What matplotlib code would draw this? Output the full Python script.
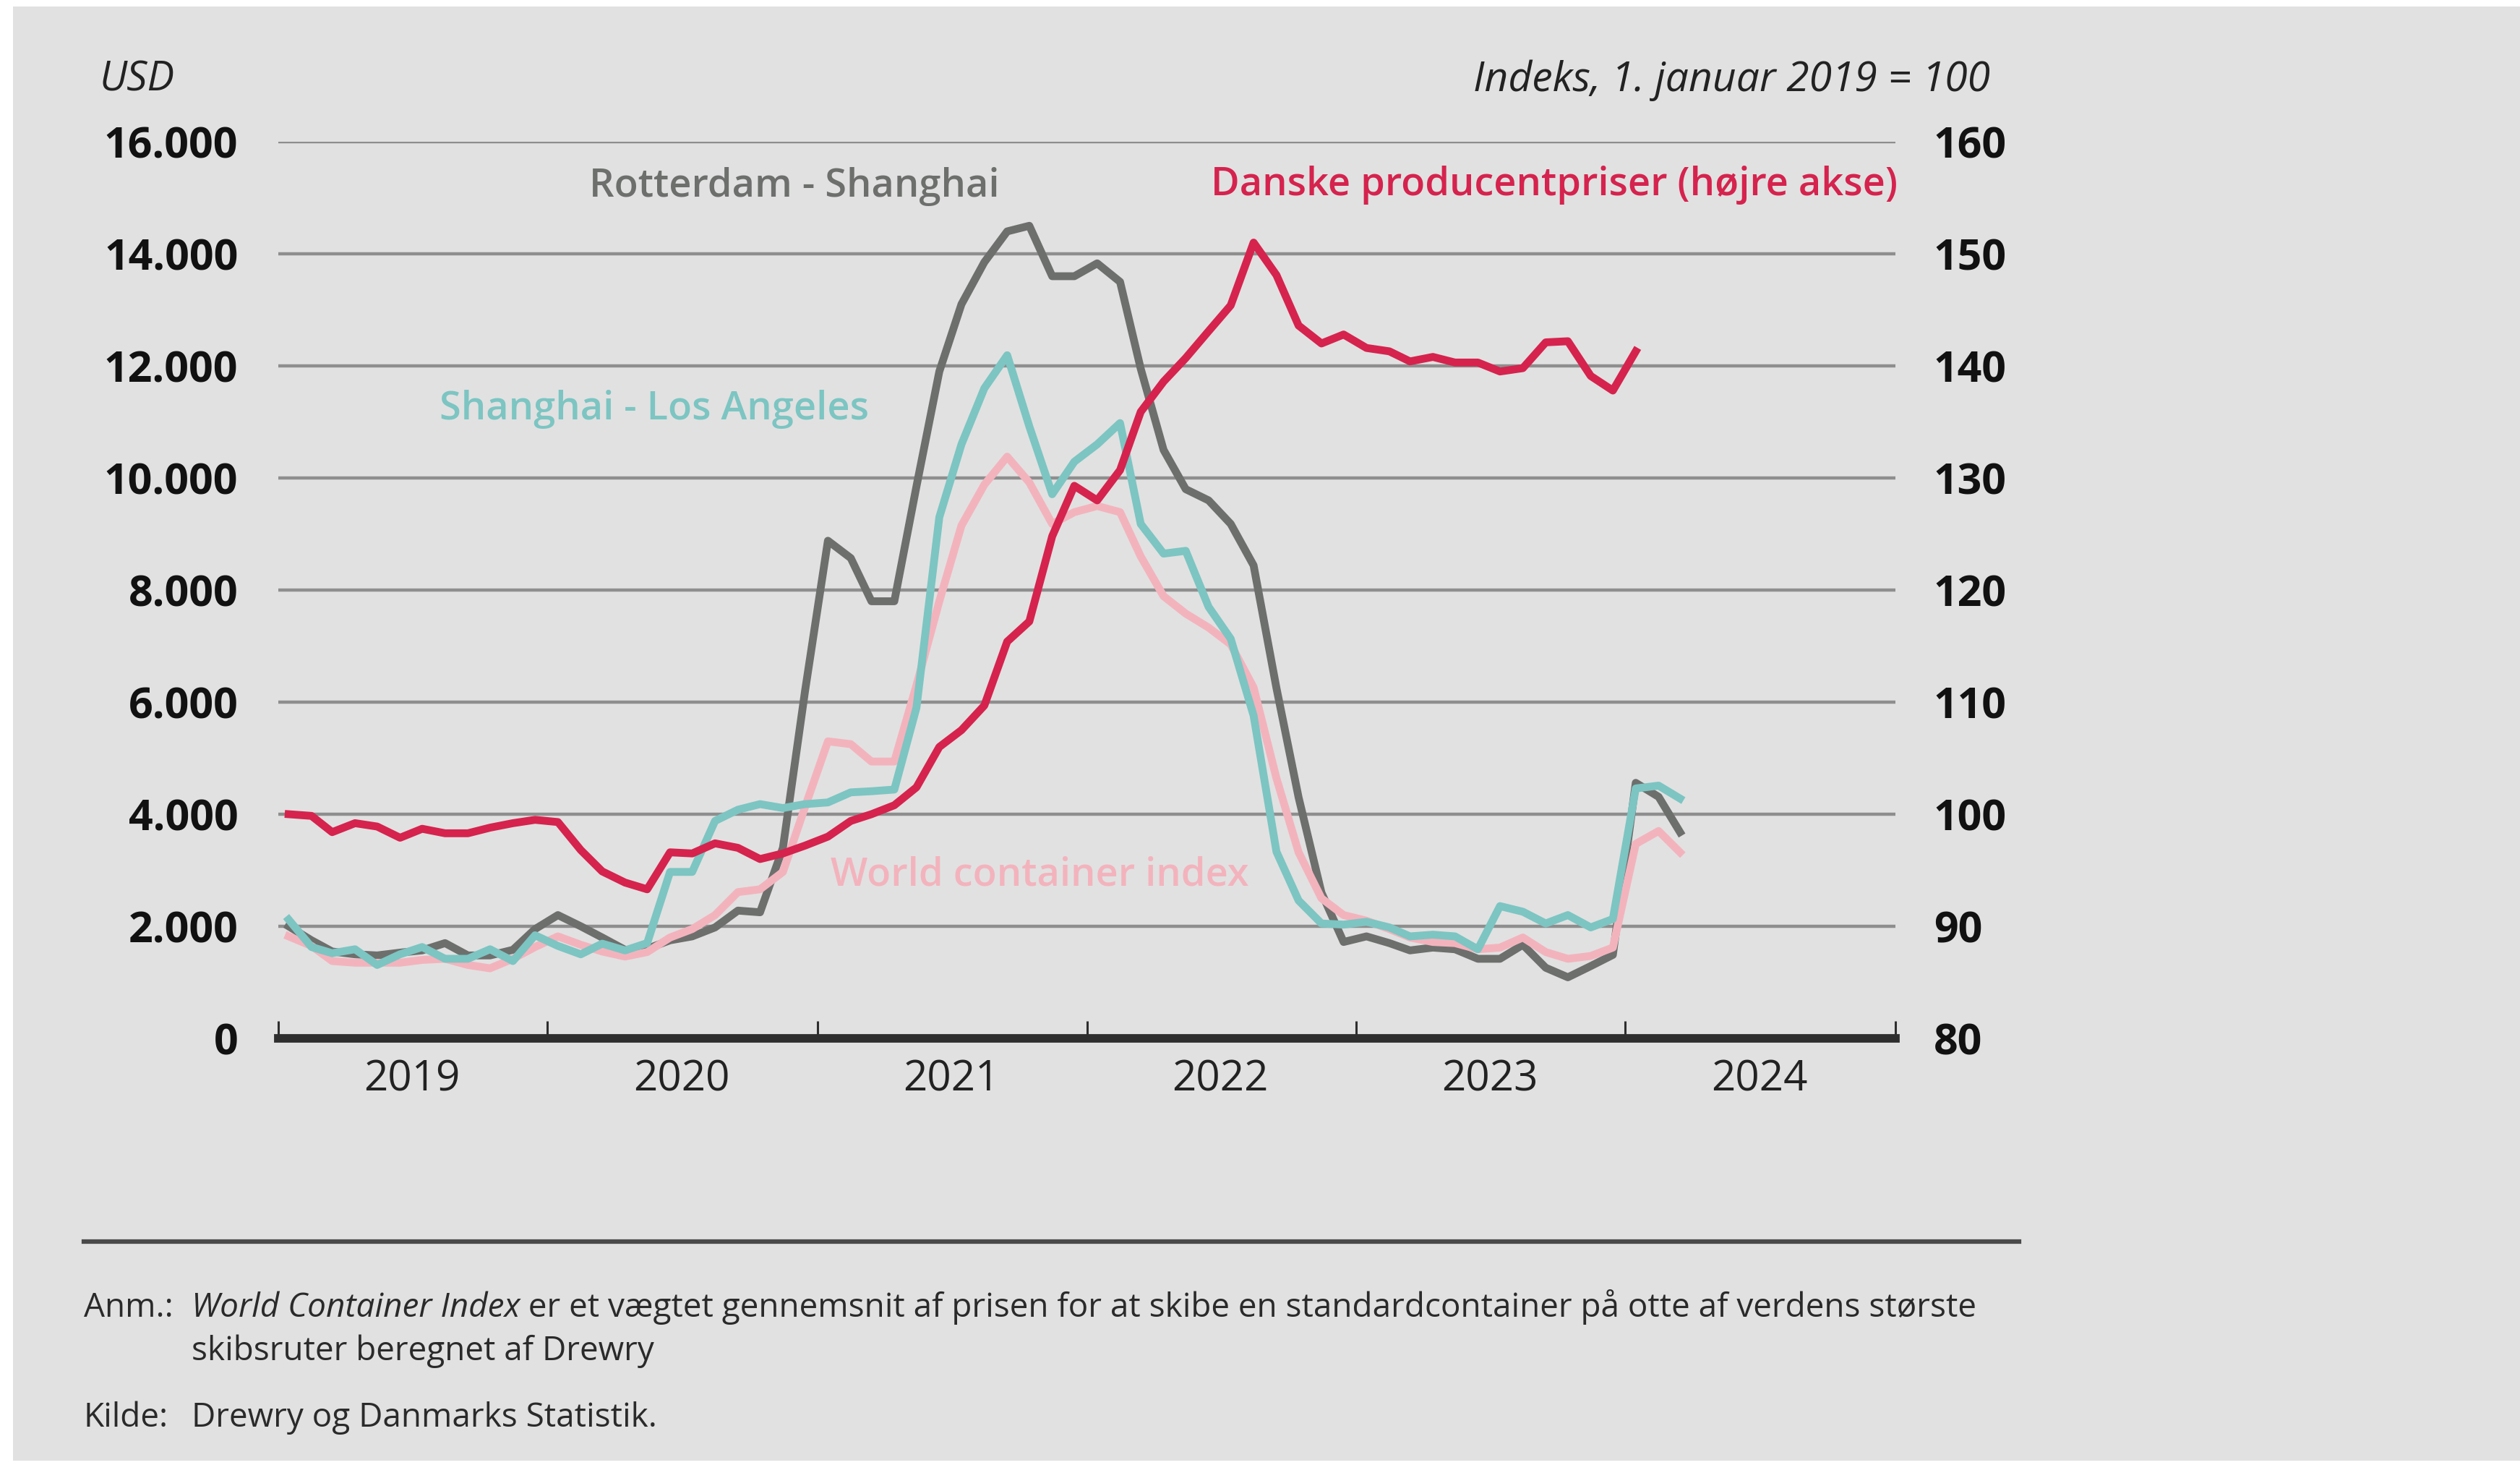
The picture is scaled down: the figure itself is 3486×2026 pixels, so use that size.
import matplotlib.pyplot as plt
import matplotlib.dates as mdates
import pandas as pd
from matplotlib.patches import Rectangle
from matplotlib.lines import Line2D
from matplotlib.ticker import FuncFormatter, MultipleLocator

W, H, DPI = 3487, 2026, 100

# Freight rates, USD per 40ft container, monthly from January 2019
rotterdam_shanghai = [2000, 1750, 1550, 1500, 1480, 1530, 1570, 1700, 1480, 1480,
                      1580, 1950, 2200, 2000, 1800, 1580, 1600, 1750, 1820, 1980,
                      2280, 2250, 3400, 6200, 8880, 8570, 7800, 7800, 9850, 11900,
                      13100, 13850, 14400, 14500, 13600, 13600, 13830, 13500, 11950, 10500,
                      9800, 9600, 9180, 8440, 6250, 4300, 2600, 1720, 1820, 1700,
                      1570, 1620, 1590, 1420, 1420, 1670, 1260, 1090, 1290, 1490,
                      4560, 4310, 3680]
shanghai_los_angeles = [2120, 1630, 1520, 1590, 1310, 1500, 1630, 1420, 1420, 1590,
                        1380, 1840, 1650, 1500, 1690, 1570, 1700, 2970, 2970, 3880,
                        4080, 4180, 4110, 4180, 4210, 4390, 4410, 4440, 5900, 9300,
                        10600, 11600, 12190, 10920, 9710, 10290, 10600, 10980, 9180, 8650,
                        8700, 7700, 7130, 5760, 3330, 2460, 2050, 2030, 2080, 1980,
                        1820, 1850, 1820, 1590, 2360, 2260, 2050, 2200, 1980, 2130,
                        4460, 4510, 4280]
world_container_index = [1820, 1650, 1380, 1350, 1350, 1350, 1400, 1420, 1310, 1250,
                         1420, 1630, 1820, 1670, 1550, 1460, 1540, 1800, 1950, 2200,
                         2610, 2660, 2970, 4130, 5300, 5250, 4940, 4940, 6300, 7800,
                         9150, 9880, 10380, 9920, 9180, 9390, 9500, 9390, 8600, 7890,
                         7580, 7330, 7030, 6260, 4640, 3320, 2500, 2200, 2100, 1950,
                         1800, 1720, 1700, 1590, 1620, 1800, 1540, 1420, 1470, 1620,
                         3470, 3700, 3320]

# Danish producer prices, index 1 January 2019 = 100
producer_prices = [100.0, 99.85, 98.4, 99.2, 98.9, 97.9, 98.7, 98.3, 98.3, 98.8,
                   99.2, 99.5, 99.3, 96.8, 94.9, 93.9, 93.3, 96.6, 96.5, 97.4,
                   97.0, 96.0, 96.5, 97.2, 98.0, 99.4, 100.0, 100.8, 102.4, 106.0,
                   107.5, 109.7, 115.4, 117.2, 124.8, 129.3, 128.0, 130.7, 135.9, 138.6,
                   140.7, 143.1, 145.4, 151.0, 148.1, 143.6, 142.0, 142.8, 141.6, 141.3,
                   140.4, 140.8, 140.3, 140.3, 139.5, 139.8, 142.1, 142.2, 139.1, 137.8,
                   141.3]

year_labels = ["2019", "2020", "2021", "2022", "2023", "2024"]

BG = "#e1e1e1"
GREY = "#6d6f6d"
TEAL = "#7cc5c2"
PINK = "#f3b3bd"
RED = "#d5234e"
GRID = "#8e8e8e"
AXIS = "#2e2e2e"

plt.rcParams["font.family"] = ["Open Sans", "DejaVu Sans"]


def fx(px):
    return px / W


def fy(px):
    return 1 - px / H


def mid_month(n):
    return pd.date_range("2019-01-01", periods=n, freq="MS") + pd.Timedelta(days=14)


fig = plt.figure(figsize=(W / DPI, H / DPI), dpi=DPI, facecolor="white")
fig.patches.append(Rectangle((fx(18), fy(2020)), 1, (2020 - 9) / H,
                             transform=fig.transFigure, facecolor=BG,
                             edgecolor="none", zorder=-10))

ax = fig.add_axes([fx(385), fy(1436), (2622 - 385) / W, (1436 - 196) / H])
ax.set_facecolor("none")
ax2 = ax.twinx()
ax2.set_facecolor("none")

lw = 7.8
ax.plot(mid_month(len(rotterdam_shanghai)), rotterdam_shanghai, color=GREY, lw=lw, zorder=3)
ax.plot(mid_month(len(world_container_index)), world_container_index, color=PINK, lw=lw, zorder=4)
ax.plot(mid_month(len(shanghai_los_angeles)), shanghai_los_angeles, color=TEAL, lw=lw, zorder=5)
ax2.plot(mid_month(len(producer_prices)), producer_prices, color=RED, lw=lw, zorder=6)

ax.set_xlim(pd.Timestamp("2019-01-01"), pd.Timestamp("2025-01-01"))
ax.set_ylim(0, 16000)
ax2.set_ylim(80, 160)

# horizontal grid
for v in range(2000, 16001, 2000):
    ax.axhline(v, color=GRID, lw=3.2, zorder=1)

ax.yaxis.set_major_locator(MultipleLocator(2000))
ax.yaxis.set_major_formatter(FuncFormatter(lambda v, p: f"{int(v):,}".replace(",", ".")))
ax2.yaxis.set_major_locator(MultipleLocator(10))
ax2.yaxis.set_major_formatter(FuncFormatter(lambda v, p: f"{int(v)}"))

ax.tick_params(axis="y", length=0, pad=40, labelsize=42.5, labelcolor="#111111")
ax2.tick_params(axis="y", length=0, pad=38, labelsize=42.5, labelcolor="#111111")
for t in ax.get_yticklabels() + ax2.get_yticklabels():
    t.set_fontweight("bold")

# year boundaries as ticks, year names centred between them
ax.xaxis.set_major_locator(mdates.YearLocator())
ax.xaxis.set_major_formatter(FuncFormatter(lambda v, p: ""))
ax.xaxis.set_minor_locator(mdates.MonthLocator(bymonth=7))
ax.xaxis.set_minor_formatter(FuncFormatter(lambda v, p: year_labels[p] if p < len(year_labels) else ""))
ax.tick_params(axis="x", which="major", direction="in", length=17, width=2.2, color=AXIS)
ax.tick_params(axis="x", which="minor", length=0, pad=20, labelsize=42, labelcolor="#222222")

for s in ["top", "left", "right"]:
    ax.spines[s].set_visible(False)
    ax2.spines[s].set_visible(False)
ax2.spines["bottom"].set_visible(False)
ax.spines["bottom"].set_color(AXIS)
ax.spines["bottom"].set_linewidth(8.5)
ax.spines["bottom"].set_zorder(7)

# axis headers
fig.text(fx(138), fy(111), "USD", fontsize=40.5, style="italic", color="#222222",
         ha="left", va="center")
fig.text(fx(2753), fy(111), "Indeks, 1. januar 2019 = 100", fontsize=41, style="italic",
         color="#222222", ha="right", va="center")

# series labels
fig.text(fx(1099), fy(258), "Rotterdam - Shanghai", fontsize=39, fontweight="semibold",
         color=GREY, ha="center", va="center")
fig.text(fx(2150), fy(256), "Danske producentpriser (højre akse)", fontsize=39,
         fontweight="semibold", color=RED, ha="center", va="center")
fig.text(fx(905), fy(566), "Shanghai - Los Angeles", fontsize=39, fontweight="semibold",
         color=TEAL, ha="center", va="center")
fig.text(fx(1438), fy(1210), "World container index", fontsize=39, fontweight="semibold",
         color=PINK, ha="center", va="center")

# footnote block
fig.add_artist(Line2D([fx(116), fx(2793)], [fy(1717), fy(1717)], color="#4a4a4a", lw=4.5))
note_kw = dict(fontsize=33, color="#2a2a2a", va="baseline")
fig.text(fx(116), fy(1821), "Anm.:", ha="left", **note_kw)
t1 = fig.text(fx(265), fy(1821), "World Container Index", style="italic", ha="left", **note_kw)
fig.canvas.draw()
bb = t1.get_window_extent()
fig.text(bb.x1 / W, fy(1821), " er et vægtet gennemsnit af prisen for at skibe en "
         "standardcontainer på otte af verdens største", ha="left", **note_kw)
fig.text(fx(265), fy(1881), "skibsruter beregnet af Drewry", ha="left", **note_kw)
fig.text(fx(116), fy(1973), "Kilde:", ha="left", **note_kw)
fig.text(fx(265), fy(1973), "Drewry og Danmarks Statistik.", ha="left", **note_kw)

fig.savefig("out.png", dpi=DPI, facecolor=fig.get_facecolor())
